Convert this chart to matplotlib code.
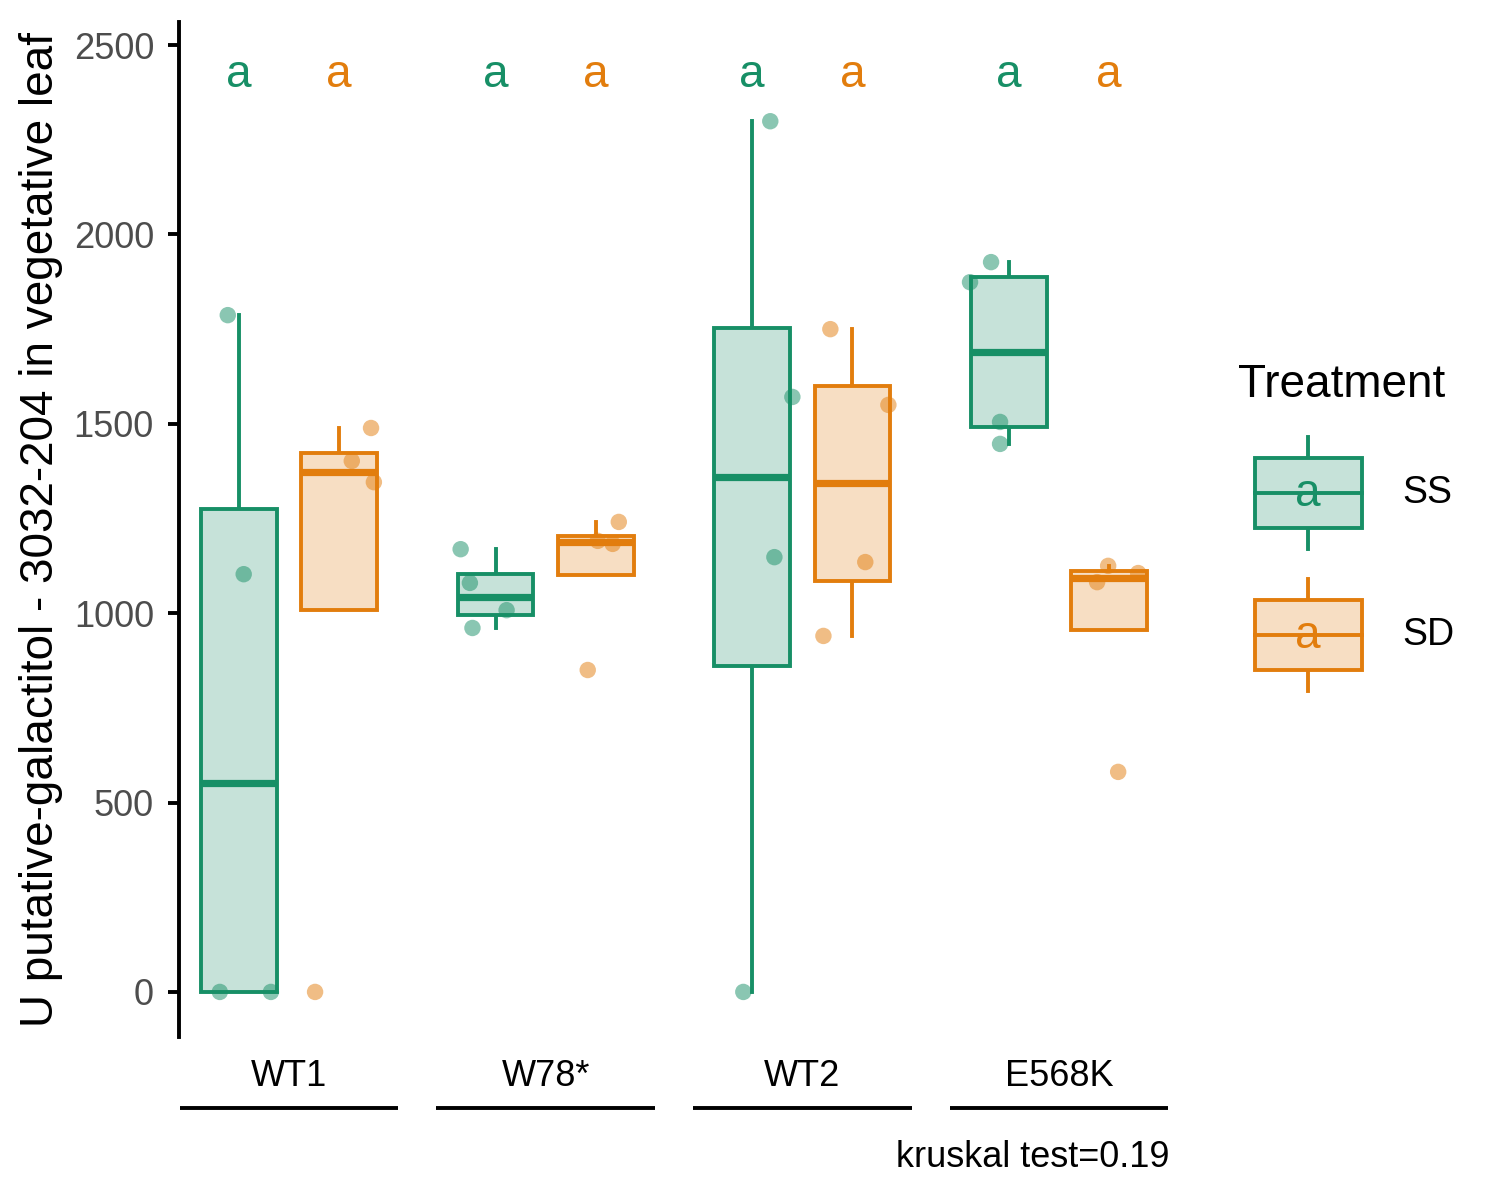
import numpy as np
import matplotlib.pyplot as plt
from matplotlib.legend_handler import HandlerBase
from matplotlib.patches import Rectangle
from matplotlib.lines import Line2D
from matplotlib.text import Text

plt.rcParams['font.family'] = ['Liberation Sans', 'DejaVu Sans']

# categories
genotypes = ["WT1", "W78*", "WT2", "E568K"]
treatments = ["SS", "SD"]

# values, 4 plants per genotype / treatment
ss_values = [[1787, 1103, 0, 0],
             [1169, 1080, 961, 1008],
             [2299, 1571, 1148, 0],
             [1927, 1874, 1505, 1447]]
sd_values = [[1489, 1402, 1346, 0],
             [850, 1241, 1191, 1183],
             [1750, 1550, 1135, 940],
             [1125, 1106, 1082, 581]]

# horizontal jitter of each point (fraction of one category), as drawn
ss_jitter = [[-0.043, 0.019, -0.074, 0.125],
             [-0.136, -0.100, -0.090, 0.043],
             [0.070, 0.156, 0.086, -0.035],
             [-0.070, -0.152, -0.035, -0.035]]
sd_jitter = [[0.125, 0.050, 0.136, -0.093],
             [-0.031, 0.090, 0.008, 0.066],
             [-0.086, 0.140, 0.050, -0.113],
             [-0.004, 0.113, -0.047, 0.035]]

# compact letter display per box
ss_letters = ["a", "a", "a", "a"]
sd_letters = ["a", "a", "a", "a"]
kruskal_p = 0.19

line_col = {"SS": "#178F66", "SD": "#E27D0D"}
fill_col = {"SS": "#C6E2D9", "SD": "#F7DEC3"}

DODGE = 0.195
BOX_W = 0.295
LW = 2.8
KEY_SHIFT = 12  # keys sit a bit right of the legend title (points)


class BoxKey(HandlerBase):
    # legend key: small boxplot with the letter on top, like ggplot
    def create_artists(self, legend, orig_handle, xdescent, ydescent,
                       width, height, fontsize, trans):
        edge = orig_handle.get_edgecolor()
        face = orig_handle.get_facecolor()
        x0, y0 = -xdescent + KEY_SHIFT, -ydescent
        bl = y0 + 0.19 * height
        bh = 0.62 * height
        xm = x0 + width / 2
        lo = Line2D([xm, xm], [y0, bl], color=edge, lw=LW, transform=trans)
        hi = Line2D([xm, xm], [bl + bh, y0 + height], color=edge, lw=LW, transform=trans)
        box = Rectangle((x0, bl), width, bh, facecolor=face, edgecolor=edge,
                        lw=LW, transform=trans)
        med = Line2D([x0, x0 + width], [y0 + height / 2] * 2, color=edge, lw=LW,
                     transform=trans)
        txt = Text(xm, y0 + height / 2 - 1, "a", color=edge, fontsize=33,
                   ha='center', va='center', transform=trans)
        return [lo, hi, box, med, txt]


fig = plt.figure(figsize=(15, 12), dpi=100)
ax = fig.add_axes([179 / 1500, 1 - 1037 / 1200, 990 / 1500, 1015 / 1200])

x = np.arange(1, len(genotypes) + 1)

for trt, vals, jit, letters, sign in [("SS", ss_values, ss_jitter, ss_letters, -1),
                                      ("SD", sd_values, sd_jitter, sd_letters, 1)]:
    pos = x + sign * DODGE
    ax.boxplot(vals, positions=pos, widths=BOX_W, patch_artist=True,
               showfliers=False, showcaps=False, manage_ticks=False,
               boxprops=dict(facecolor=fill_col[trt], edgecolor=line_col[trt],
                             linewidth=LW, zorder=2),
               whiskerprops=dict(color=line_col[trt], linewidth=LW, zorder=1.5),
               medianprops=dict(color=line_col[trt], linewidth=5.2, zorder=2.5,
                                solid_capstyle='butt'))
    for i in range(len(genotypes)):
        ax.scatter(pos[i] + np.array(jit[i]), vals[i], s=140, color=line_col[trt],
                   alpha=0.5, edgecolors='none', zorder=3)
        ax.text(pos[i], 2420, letters[i], ha='center', va='center',
                fontsize=33, color=line_col[trt])

ax.set_xlim(0.572, 4.428)
ax.set_ylim(-119, 2561)
ax.set_yticks([0, 500, 1000, 1500, 2000, 2500])
ax.tick_params(axis='y', labelsize=26, labelcolor='#4D4D4D', length=8,
               width=LW, pad=10)
ax.set_xticks(x, genotypes)
ax.tick_params(axis='x', labelsize=26, length=0, pad=16)

for s in ['top', 'right', 'bottom']:
    ax.spines[s].set_visible(False)
ax.spines['left'].set_linewidth(LW)

ax.set_ylabel("U putative-galactitol - 3032-204 in vegetative leaf",
              fontsize=33, labelpad=8)

# lines under each genotype label
for c in x:
    ax.plot([c - 0.426, c + 0.426], [-0.07, -0.07], color='black', lw=LW,
            transform=ax.get_xaxis_transform(), clip_on=False,
            solid_capstyle='butt')

ax.text(1.0, -0.119, f"kruskal test={kruskal_p}", transform=ax.transAxes,
        ha='right', va='center', fontsize=26)

handles = [Rectangle((0, 0), 1, 1, facecolor=fill_col[t], edgecolor=line_col[t])
           for t in treatments]
leg = ax.legend(handles, treatments, handler_map={Rectangle: BoxKey()},
                title="Treatment", loc='upper left',
                bbox_to_anchor=(1223 / 1500, 1 - 348 / 1200),
                bbox_transform=fig.transFigure, frameon=False, borderaxespad=0,
                fontsize=27, title_fontsize=33, handlelength=2.85,
                handleheight=4.22, labelspacing=0.8, handletextpad=1.53,
                alignment='left')

fig.savefig("out.png", dpi=100)
